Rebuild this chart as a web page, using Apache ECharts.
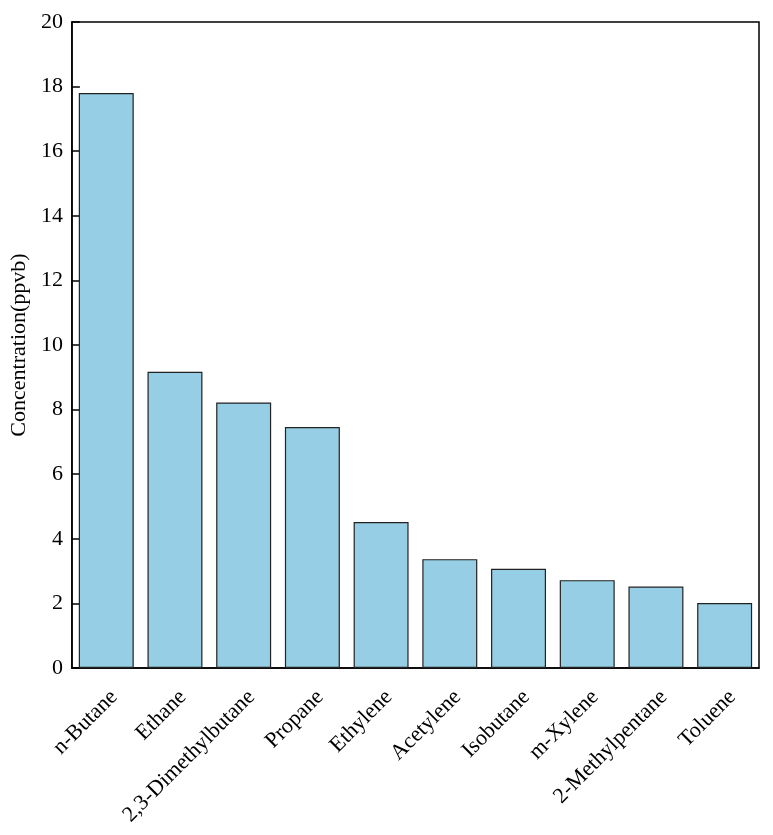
<!DOCTYPE html>
<html lang="en">
<head>
    <meta charset="UTF-8">
    <title>Concentration</title>
    <script src="https://cdn.jsdelivr.net/npm/echarts@6/dist/echarts.min.js"></script>
    <style>
        html, body { margin: 0; padding: 0; background: #fff; }
        #chart { width: 773px; height: 835px; }
    </style>
</head>
<body>
<div id="chart"></div>
<script>
    var species = ['n-Butane', 'Ethane', '2,3-Dimethylbutane', 'Propane', 'Ethylene',
        'Acetylene', 'Isobutane', 'm-Xylene', '2-Methylpentane', 'Toluene']
    var concentration = [17.8, 9.17, 8.22, 7.46, 4.52, 3.37, 3.07, 2.72, 2.52, 2.01]

    var font = 'Liberation Serif'
    var chart = echarts.init(document.getElementById('chart'))
    chart.setOption({
        animation: false,
        grid: {left: 68, top: 22, right: 14, bottom: 167, show: true, borderColor: '#000', borderWidth: 1.5},
        xAxis: {
            type: 'category',
            data: species,
            axisLine: {lineStyle: {color: '#000', width: 1.5}},
            axisTick: {inside: true, alignWithLabel: true, length: 8, lineStyle: {color: '#000', width: 1.5}},
            axisLabel: {rotate: 45, color: '#000', fontFamily: font, fontSize: 22, margin: 18, interval: 0,
                verticalAlign: 'top'}
        },
        yAxis: {
            type: 'value',
            min: 0,
            max: 20,
            interval: 2,
            name: 'Concentration(ppvb)',
            nameLocation: 'middle',
            nameGap: 40,
            nameTextStyle: {color: '#000', fontFamily: font, fontSize: 22},
            splitLine: {show: false},
            axisLine: {show: true, lineStyle: {color: '#000', width: 1.5}},
            axisTick: {show: true, inside: true, length: 8, lineStyle: {color: '#000', width: 1.5}},
            axisLabel: {color: '#000', fontFamily: font, fontSize: 22, margin: 9}
        },
        series: [{
            type: 'bar',
            data: concentration,
            barCategoryGap: '20%',
            itemStyle: {color: '#96cfe5', borderColor: '#222', borderWidth: 1.2}
        }]
    })
</script>
</body>
</html>
